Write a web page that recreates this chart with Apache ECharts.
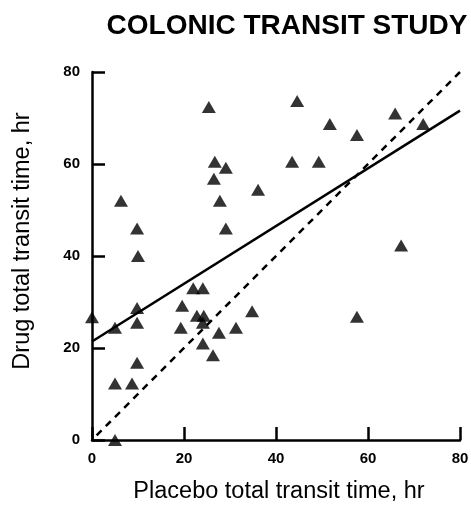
<!DOCTYPE html>
<html><head><meta charset="utf-8">
<script src="https://cdn.jsdelivr.net/npm/echarts@6/dist/echarts.min.js"></script>
<style>html,body{margin:0;padding:0;background:#fff}#c{width:471px;height:506px}</style>
</head><body><div id="c"></div>
<script>
const placebo = [0,5,5,8.7,5,9.8,9.8,9.8,10,9.8,6.3,25.4,26.7,29.1,26.5,27.8,29.1,36.1,44.6,51.7,57.6,65.9,72,43.5,49.3,67.2,57.6,22,24.1,19.6,19.3,22.8,24.3,24.1,24.1,27.6,26.3,31.3,34.8];
const drug    = [26.7,24.4,12.3,12.3,0,16.8,25.5,28.7,40,46,52,72.4,60.5,59.2,56.8,52,46,54.4,73.7,68.7,66.3,71,68.7,60.5,60.5,42.3,26.8,33,33,29.2,24.4,27,27,25.5,21,23.3,18.4,24.4,28];
const fitX = [0, 80];
const fitY = [21.4, 71.6];
const identX = [1, 80];
const identY = [1, 80];
const xTicks = [0,20,40,60,80];
const yTicks = [0,20,40,60,80];

const chart = echarts.init(document.getElementById('c'));
const font = 'Liberation Sans, Arial, Helvetica, sans-serif';
chart.setOption({
  animation:false,
  title:{text:'COLONIC TRANSIT STUDY', left:282, textAlign:'center', top:7,
    textStyle:{fontFamily:font, fontSize:28, fontWeight:'bold', color:'#000'}},
  grid:{left:92, right:11, top:72, bottom:66, outerBoundsMode:'none', containLabel:false},
  xAxis:{type:'value', min:0, max:80, interval:20,
    name:'Placebo total transit time, hr', nameLocation:'middle', nameGap:40,
    nameTextStyle:{fontFamily:font, fontSize:23.5, color:'#000', padding:[0,0,0,6]},
    axisLine:{lineStyle:{color:'#000', width:2.5}},
    axisTick:{inside:true, length:13, lineStyle:{color:'#000', width:2.5}},
    axisLabel:{fontFamily:font, fontSize:15, fontWeight:'bold', color:'#000', margin:11},
    splitLine:{show:false}},
  yAxis:{type:'value', min:0, max:80, interval:20,
    name:'Drug total transit time, hr', nameLocation:'middle', nameGap:57,
    nameTextStyle:{fontFamily:font, fontSize:23.5, color:'#000', padding:[0,0,0,30]},
    axisLine:{lineStyle:{color:'#000', width:2.5}},
    axisTick:{inside:true, length:13, lineStyle:{color:'#000', width:2.5}},
    axisLabel:{fontFamily:font, fontSize:15, fontWeight:'bold', color:'#000', margin:12},
    splitLine:{show:false}},
  series:[
    {type:'line', data:identX.map((x,i)=>[x,identY[i]]), symbol:'none',
      lineStyle:{color:'#000', width:2.5, type:[7,6]}, z:1},
    {type:'line', data:fitX.map((x,i)=>[x,fitY[i]]), symbol:'none',
      lineStyle:{color:'#000', width:2.5}, z:1},
    {type:'scatter', data:placebo.map((x,i)=>[x,drug[i]]), symbol:'triangle',
      symbolSize:[14,12], itemStyle:{color:'#000'}, z:3}
  ]
});
</script></body></html>
